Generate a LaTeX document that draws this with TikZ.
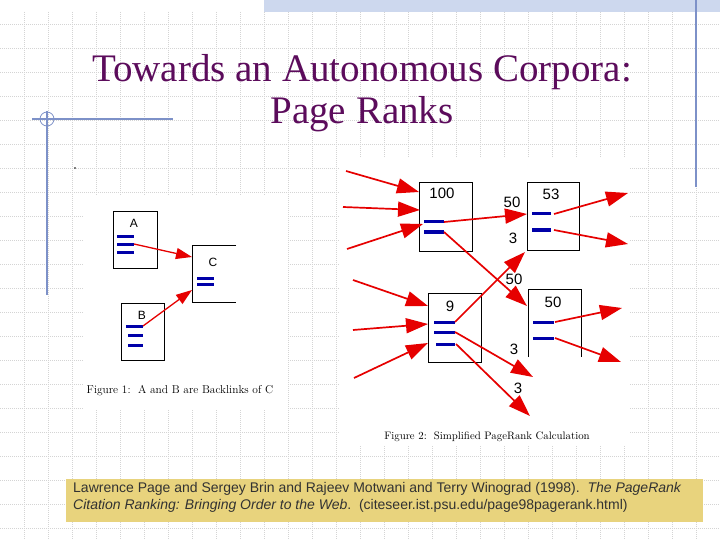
\documentclass[tikz,border=0pt]{standalone}
\usepackage{fontspec}
\newfontfamily\arial{Liberation Sans}
\newfontfamily\titlefont{Liberation Serif}
\usetikzlibrary{arrows.meta}
\definecolor{titlec}{RGB}{92,12,92}
\definecolor{gridc}{RGB}{212,212,212}
\definecolor{decoc}{RGB}{125,145,200}
\definecolor{bandc}{RGB}{205,216,238}
\definecolor{arrc}{RGB}{230,0,0}
\definecolor{linec}{RGB}{0,0,168}
\definecolor{citec}{RGB}{232,211,125}
\definecolor{citet}{RGB}{50,50,50}
\begin{document}
\begin{tikzpicture}[x=1pt,y=-1pt,
  gridline/.style={gridc, line width=0.6pt, dash pattern=on 1pt off 1pt},
  deco/.style={decoc, line width=1.1pt},
  pbox/.style={draw=black, line width=0.8pt, inner sep=0pt},
  bl/.style={linec, line width=3pt},
  rarr/.style={arrc, line width=1.7pt, -{Triangle[length=22pt,width=15pt]}},
  smallarr/.style={arrc, line width=1.3pt, -{Triangle[length=16pt,width=11pt]}},
  lab/.style={font=\arial\fontsize{12}{14}\selectfont, inner sep=0pt},
  num/.style={font=\arial\fontsize{15}{17}\selectfont, inner sep=0pt}]
\useasboundingbox (0,0) rectangle (720,540);
\fill[white] (0,0) rectangle (720,540);
% grid
\foreach \gx in {24,48,...,696} \draw[gridline] (\gx,12) -- (\gx,540);
\foreach \gy in {24,48,...,528} \draw[gridline] (0,\gy) -- (720,\gy);
% top band and decorations
\fill[bandc] (264,0) rectangle (720,12);
\draw[deco] (696,0) -- (696,187);
\draw[deco] (32,119) -- (173,119);
\draw[deco] (47,111) -- (47,295);
\draw[deco, line width=0.8pt] (47,119) circle (7);
% figure image backgrounds
\fill[white] (83,196) rectangle (288,410);
\fill[white] (340,158) rectangle (630,446);
% title
\node[titlec, font=\titlefont\fontsize{39}{42}\selectfont, align=center, inner sep=0pt] (title) at (362,93)
  {Towards an Autonomous Corpora:\\Page Ranks};
\fill[black] (75,168) circle (0.8);
% ---------- Figure 1 ----------
\node[pbox, minimum width=44pt, minimum height=57pt] (A) at (135,239.5) {};
\node[lab] (Alab) at (134,223) {A};
\draw[bl] (117,236) -- (134,236);
\draw[bl] (117,244) -- (134,244);
\draw[bl] (117,252) -- (134,252);
\coordinate (a2) at (134,244);
\draw[black, line width=0.8pt] (236,245) -- (192,245) -- (192,302) -- (236,302);
\node[lab] (Clab) at (213,262) {C};
\draw[bl] (197,278) -- (214,278);
\draw[bl] (197,284) -- (214,284);
\coordinate (cin1) at (192,257);
\coordinate (cin2) at (192,290);
\node[pbox, minimum width=43pt, minimum height=57pt] (B) at (142.5,331.5) {};
\node[lab] (Blab) at (142,315) {B};
\draw[bl] (126,326) -- (143,326);
\draw[bl] (128,335) -- (143,335);
\draw[bl] (128,345) -- (143,345);
\coordinate (b1) at (143,326);
\draw[smallarr] (a2) -- (cin1);
\draw[smallarr] (b1) -- (cin2);
\node[font=\fontsize{11.4}{13}\selectfont, inner sep=0pt] (cap1) at (180,391) {Figure 1:\ \ A and B are Backlinks of C};
% ---------- Figure 2 ----------
\node[pbox, minimum width=53pt, minimum height=69pt] (P100) at (445.5,216.5) {};
\node[num] (l100) at (442,193) {100};
\draw[bl] (424,222) -- (444,222);
\draw[bl] (424,232) -- (444,232);
\coordinate (p100a) at (444,222);
\coordinate (p100b) at (444,232);
\node[pbox, minimum width=52pt, minimum height=68pt] (P53) at (553,216) {};
\node[num] (l53) at (551,194) {53};
\draw[bl] (532,214) -- (551,214);
\draw[bl] (532,230) -- (551,230);
\coordinate (p53a) at (554,214);
\coordinate (p53b) at (554,230);
\node[pbox, minimum width=53pt, minimum height=69pt] (P9) at (454.5,327.5) {};
\node[num] (l9) at (450,306) {9};
\draw[bl] (434,322) -- (455,322);
\draw[bl] (434,332) -- (455,332);
\draw[bl] (436,344) -- (455,344);
\coordinate (p9a) at (455,322);
\coordinate (p9b) at (455,332);
\coordinate (p9c) at (456,344);
\draw[black, line width=0.8pt] (528,357) -- (528,289) -- (581,289) -- (581,357);
\node[num] (l50) at (553,302) {50};
\draw[bl] (533,322) -- (554,322);
\draw[bl] (533,338) -- (554,338);
\coordinate (p50a) at (555,322);
\coordinate (p50b) at (555,338);
% edge labels
\node[num] (e50a) at (512,202) {50};
\node[num] (e3a) at (513,238) {3};
\node[num] (e50b) at (514,279) {50};
\node[num] (e3b) at (514,349) {3};
\node[num] (e3c) at (518,388) {3};
% incoming free ends
\coordinate (s1) at (346,171);
\coordinate (t1) at (419,192);
\coordinate (s2) at (343,207);
\coordinate (t2) at (420,210);
\coordinate (s3) at (347,249);
\coordinate (t3) at (423,224);
\coordinate (s4) at (353,280);
\coordinate (t4) at (428,306);
\coordinate (s5) at (353,330);
\coordinate (t5) at (428,324);
\coordinate (s6) at (354,378);
\coordinate (t6) at (428,343);
\draw[rarr] (s1) -- (t1);
\draw[rarr] (s2) -- (t2);
\draw[rarr] (s3) -- (t3);
\draw[rarr] (s4) -- (t4);
\draw[rarr] (s5) -- (t5);
\draw[rarr] (s6) -- (t6);
% internal links
\coordinate (in53) at (527,214);
\coordinate (in53b) at (525,252);
\coordinate (in50) at (527,306);
\coordinate (o9b) at (533,377);
\coordinate (o9c) at (530,416);
\draw[rarr] (p100a) -- (in53);
\draw[rarr] (p100b) -- (in50);
\draw[rarr] (p9a) -- (in53b);
\draw[rarr] (p9b) -- (o9b);
\draw[rarr] (p9c) -- (o9c);
% outgoing
\coordinate (o53a) at (628,193);
\coordinate (o53b) at (628,244);
\coordinate (o50a) at (622,308);
\coordinate (o50b) at (621,362);
\draw[rarr] (p53a) -- (o53a);
\draw[rarr] (p53b) -- (o53b);
\draw[rarr] (p50a) -- (o50a);
\draw[rarr] (p50b) -- (o50b);
\node[font=\fontsize{10.8}{12}\selectfont, inner sep=0pt] (cap2) at (487,437) {Figure 2:\ \ Simplified PageRank Calculation};
% ---------- citation ----------
\fill[citec] (66,479) rectangle (703,522);
\node[anchor=north west, citet, align=left, inner sep=0pt,
  font=\arial\fontsize{14}{17}\selectfont] (cite) at (73,482.5)
  {Lawrence Page and Sergey Brin and Rajeev Motwani and Terry Winograd (1998).\ \ \textit{The PageRank}\\
   \textit{Citation Ranking: Bringing Order to the Web}.\ \ (citeseer.ist.psu.edu/page98pagerank.html)};
\end{tikzpicture}
\end{document}
